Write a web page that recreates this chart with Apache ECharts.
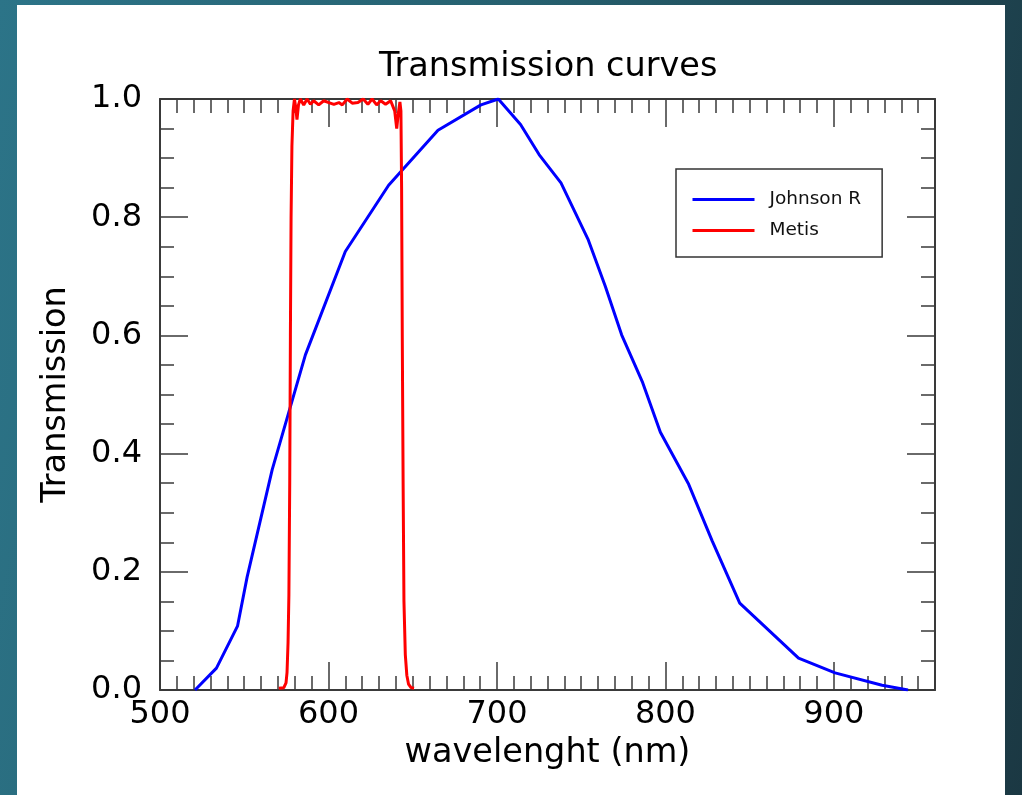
<!DOCTYPE html>
<html>
<head>
<meta charset="utf-8">
<script src="https://cdn.jsdelivr.net/npm/echarts@6/dist/echarts.min.js"></script>
<style>
  html, body { margin: 0; padding: 0; width: 1022px; height: 795px; overflow: hidden;
    background: linear-gradient(100deg, #2c7488 0%, #26606f 45%, #1b3843 100%); }
  #panel { position: absolute; left: 17px; top: 5px; width: 988px; height: 790px; background: #ffffff; }
  #chart { width: 988px; height: 790px; }
</style>
</head>
<body>
<div id="panel"><div id="chart"></div></div>
<script>
const chartTitle = 'Transmission curves';
const xName = 'wavelenght (nm)';
const yName = 'Transmission';
const seriesNames = ['Johnson R', 'Metis'];

const johnsonX = [520.8, 533.5, 546, 551.7, 566.6, 586.3, 610, 635.7, 665, 690.5, 700.8, 714, 725, 738, 754, 764.3, 774, 786.5, 797, 813.8, 827.8, 844.1, 879, 900.7, 928.6, 944];
const johnsonY = [0, 0.037, 0.108, 0.191, 0.373, 0.567, 0.742, 0.854, 0.947, 0.99, 1.0, 0.957, 0.906, 0.858, 0.763, 0.683, 0.601, 0.52, 0.436, 0.348, 0.252, 0.147, 0.054, 0.029, 0.008, 0.0];

const metisX = [570.5, 573.5, 574.8, 575.4, 576.0, 576.5, 577.0, 577.4, 577.8, 578.3, 579.0, 579.8, 580.6, 581.3, 582.2, 583.3, 585.3, 587.3, 589.3, 591.2, 594.2, 597.2, 600.2, 603.2, 606.2, 608.2, 611.1, 614.1, 617.5, 620.6, 623.4, 625.9, 628.6, 631.0, 633.9, 636.9, 639.3, 640.5, 641.4, 642.4, 643.0, 643.4, 643.8, 644.3, 644.8, 645.6, 646.5, 647.5, 649.0, 650.8];
const metisY = [0.003, 0.004, 0.012, 0.03, 0.08, 0.16, 0.35, 0.6, 0.8, 0.92, 0.98, 1.0, 0.985, 0.965, 0.99, 1.0, 0.99, 1.0, 0.991, 0.997, 0.99, 0.997, 0.994, 0.991, 0.994, 0.99, 1.0, 0.993, 0.994, 1.0, 0.991, 1.0, 0.99, 0.997, 0.991, 0.997, 0.98, 0.95, 0.975, 0.995, 0.98, 0.85, 0.6, 0.35, 0.15, 0.06, 0.025, 0.01, 0.004, 0.003];

const xMin = 500, xMax = 960, xMajor = 100, xMinor = 10;
const yMin = 0, yMax = 1, yMajor = 0.2, yMinor = 0.05;

const FONT = 'DejaVu Sans';
const AX = '#3a3a3a';

function zip(xs, ys) { return xs.map((x, i) => [x, ys[i]]); }

function xAx(pos, interval, tickLen, labels, line) {
  return {
    type: 'value', position: pos, min: xMin, max: xMax, interval: interval,
    name: (labels ? xName : ''), nameLocation: 'middle', nameGap: 40,
    nameTextStyle: { fontFamily: FONT, fontSize: 33.5, color: '#000' },
    axisLine: { show: line, onZero: false, lineStyle: { color: AX, width: 2 } },
    axisTick: { show: true, inside: true, length: tickLen, lineStyle: { color: AX, width: 1.5 } },
    axisLabel: { show: labels, fontFamily: FONT, fontSize: 32, color: '#000', margin: 9, showMaxLabel: false },
    splitLine: { show: false }
  };
}
function yAx(pos, interval, tickLen, labels, line) {
  return {
    type: 'value', position: pos, min: yMin, max: yMax, interval: interval,
    name: (labels ? yName : ''), nameLocation: 'middle', nameGap: 87,
    nameTextStyle: { fontFamily: FONT, fontSize: 33.5, color: '#000' },
    axisLine: { show: line, onZero: false, lineStyle: { color: AX, width: 2 } },
    axisTick: { show: true, inside: true, length: tickLen, lineStyle: { color: AX, width: 1.5 } },
    axisLabel: { show: labels, fontFamily: FONT, fontSize: 32, color: '#000', margin: 18,
      formatter: v => v.toFixed(1) },
    splitLine: { show: false }
  };
}

const chart = echarts.init(document.getElementById('chart'), null, { renderer: 'canvas' });
chart.setOption({
  animation: false,
  backgroundColor: '#ffffff',
  title: {
    text: chartTitle, left: 357, top: 40,
    textStyle: { fontFamily: FONT, fontSize: 33.5, fontWeight: 'normal', color: '#000' }
  },
  grid: { left: 143, top: 94, width: 775, height: 591 },
  legend: {
    orient: 'vertical', left: 659, top: 164,
    padding: [21, 21, 17, 15],
    borderColor: '#333', borderWidth: 1.5, backgroundColor: '#fff',
    itemWidth: 62, itemHeight: 14, itemGap: 12,
    itemStyle: { color: 'rgba(0,0,0,0)', borderWidth: 0, opacity: 0 },
    lineStyle: { width: 3 },
    textStyle: { fontFamily: FONT, fontSize: 18.5, color: '#111', padding: [0, 0, 0, 10], lineHeight: 14 },
    data: seriesNames
  },
  xAxis: [
    xAx('bottom', xMajor, 28, true, true),
    xAx('bottom', xMinor, 14, false, false),
    xAx('top', xMajor, 28, false, true),
    xAx('top', xMinor, 14, false, false)
  ],
  yAxis: [
    yAx('left', yMajor, 28, true, true),
    yAx('left', yMinor, 14, false, false),
    yAx('right', yMajor, 28, false, true),
    yAx('right', yMinor, 14, false, false)
  ],
  series: [
    { name: seriesNames[0], type: 'line', data: zip(johnsonX, johnsonY), showSymbol: false, symbol: 'none',
      lineStyle: { color: '#0000ff', width: 3 }, itemStyle: { color: '#0000ff' } },
    { name: seriesNames[1], type: 'line', data: zip(metisX, metisY), showSymbol: false, symbol: 'none',
      lineStyle: { color: '#ff0000', width: 3 }, itemStyle: { color: '#ff0000' } }
  ]
});
</script>
</body>
</html>
